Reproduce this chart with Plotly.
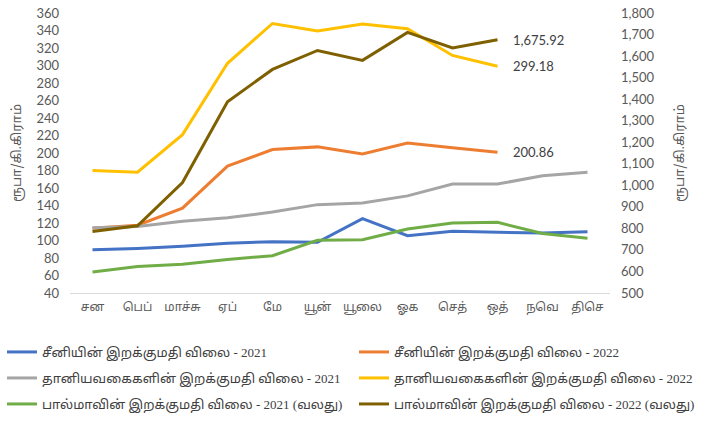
import plotly.graph_objects as go

months = ["சன", "பெப்", "மாச்சு", "ஏப்", "மே", "யூன்", "யூலை", "ஓக", "செத்", "ஒத்", "நவெ", "திசெ"]

sugar_2021 = [89.5, 91, 93.5, 97, 98.5, 98, 125, 105.5, 110.5, 109.5, 108.5, 110]
sugar_2022 = [114, 117.5, 137, 185, 204, 207, 199, 211.5, 206, 200.86]
grain_2021 = [114.5, 116, 122, 126, 132.5, 141, 143, 151, 164.5, 164.5, 174, 178]
grain_2022 = [180, 178, 221, 302.5, 348, 339.5, 347.5, 342, 311.5, 299.18]
milk_2021 = [598, 623, 634, 656, 673, 745, 747, 797, 825, 828, 776, 754]
milk_2022 = [786, 812, 1013, 1388, 1538, 1626, 1580, 1710, 1638, 1675.92]

names = [
    "சீனியின் இறக்குமதி விலை - 2021",
    "சீனியின் இறக்குமதி விலை - 2022",
    "தானியவகைகளின் இறக்குமதி விலை - 2021",
    "தானியவகைகளின் இறக்குமதி விலை - 2022",
    "பால்மாவின் இறக்குமதி விலை - 2021 (வலது)",
    "பால்மாவின் இறக்குமதி விலை - 2022 (வலது)",
]
colors = ["#4472C4", "#ED7D31", "#A5A5A5", "#FFC000", "#70AD47", "#7F6000"]
series = [sugar_2021, sugar_2022, grain_2021, grain_2022, milk_2021, milk_2022]
axes = ["y", "y", "y", "y", "y2", "y2"]

left_ticks = list(range(40, 361, 20))
right_ticks = list(range(500, 1801, 100))
unit = "ரூபா/கி.கிராம்"

fig = go.Figure()
legend_ids = ["legend"] + ["legend%d" % i for i in range(2, 7)]
for name, col, vals, ax, lg in zip(names, colors, series, axes, legend_ids):
    fig.add_trace(go.Scatter(
        x=months[:len(vals)], y=vals, name=name, mode="lines",
        line=dict(color=col, width=3), yaxis=ax, legend=lg, showlegend=True,
    ))

# data labels at last point of 2022 series
for vals, ax in [(milk_2022, "y2"), (grain_2022, "y"), (sugar_2022, "y")]:
    fig.add_annotation(
        x=months[len(vals) - 1], y=vals[-1], yref=ax, xref="x",
        text="{:,.2f}".format(vals[-1]), showarrow=False, xanchor="left", xshift=13,
        font=dict(family="Lato, sans-serif", size=13, color="#404040"),
    )

tamil = "Noto Sans Tamil, Lato, sans-serif"
tickfont = dict(family="Lato, sans-serif", size=13, color="#595959")
xtickfont = dict(family=tamil, size=12, color="#595959")
legfont = dict(family="Liberation Serif, Noto Sans Tamil, serif", size=13, color="#404040")
titlefont = dict(family=tamil, size=13, color="#595959")

legend_layout = {}
for i, lg in enumerate(legend_ids):
    col, row = i % 2, i // 2
    legend_layout[lg] = dict(
        orientation="h", xref="container", yref="container",
        x=(2 if col == 0 else 354) / 702, y=1 - (352 + 26 * row) / 421,
        xanchor="left", yanchor="middle", font=legfont,
        bgcolor="rgba(0,0,0,0)", borderwidth=0,
    )

fig.update_layout(
    width=702, height=421, showlegend=True,
    margin=dict(l=70, r=92, t=13, b=128, autoexpand=False),
    paper_bgcolor="white", plot_bgcolor="white",
    xaxis=dict(
        categoryorder="array", categoryarray=months,
        showgrid=False, showline=True, linecolor="#D9D9D9", linewidth=1,
        ticks="", tickfont=xtickfont, range=[-0.5, 11.5], ticklabelstandoff=3,
    ),
    yaxis=dict(
        range=[40, 360], tickvals=left_ticks, showgrid=False, zeroline=False,
        showline=False, tickfont=tickfont, ticks="", ticklabelstandoff=10,
        title=dict(text=unit, font=titlefont, standoff=11),
    ),
    yaxis2=dict(
        range=[500, 1800], tickvals=right_ticks, tickformat=",", overlaying="y", side="right",
        showgrid=False, zeroline=False, showline=False, tickfont=tickfont, ticks="",
        ticklabelstandoff=10,
        title=dict(text=unit, font=titlefont, standoff=21),
    ),
    **legend_layout,
)

fig.write_html("out.html", config={"displayModeBar": False},
               post_script="document.body.style.margin='0px';")
